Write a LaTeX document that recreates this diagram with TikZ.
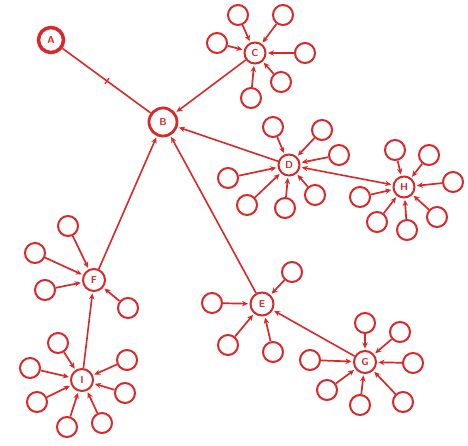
\documentclass[tikz,border=0pt]{standalone}
\usepackage{tikz}
\usetikzlibrary{
  calc
  , arrows.meta
}
\definecolor{NetRed}{RGB}{218,40,42}

\begin{document}
\begin{tikzpicture}[x=1pt,y=-1pt]
      \useasboundingbox (0,0) rectangle (468,445);
      \tikzset{
        hub/.style={draw=NetRed, circle, line width=2pt,
          minimum size=21pt, inner sep=0pt, text=NetRed,
          font=\fontsize{10}{10}\selectfont\sffamily\bfseries},
        sat/.style={draw=NetRed, circle, line width=2pt,
          minimum size=20pt, inner sep=0pt},
        feed/.style={-{Stealth[length=6pt,width=5.5pt]}, draw=NetRed,
          line width=1.7pt, shorten >=1.5pt},
        link/.style={draw=NetRed, line width=1.6pt},
      }

      % main nodes
      \node [hub, line width=3.5pt, minimum size=25pt] (A) at (51,40) {A};
      \node [hub, line width=2.8pt, minimum size=28pt] (B) at (163,122) {B};
      \node [hub] (C) at (255,53) {C};
      \node [hub] (D) at (289,165) {D};
      \node [hub] (H) at (404,187) {H};
      \node [hub, minimum size=22pt] (F) at (94,280) {F};
      \node [hub, minimum size=22pt] (I) at (82,380) {I};
      \node [hub, minimum size=23pt] (E) at (262,304) {E};
      \node [hub, minimum size=22pt] (G) at (365,362) {G};

      % links between the main nodes
      \draw[link] (A) -- (B);
      \draw[link, line width=1.3pt]
      ($ (A)!.5!(B)!3.5pt!90:(B) $) coordinate (TickA)
      -- ($ (A)!.5!(B)!3.5pt!-90:(B) $) coordinate (TickB);
      \draw[feed, link] (C) -- (B);
      \draw[feed, link] (D) -- (B);
      \draw[feed, link, shorten <=1.5pt, {Stealth[length=6pt,width=5.5pt]}-{Stealth[length=6pt,width=5.5pt]}] (H) -- (D);
      \draw[feed, link] (F) -- (B);
      \draw[feed, link] (I) -- (F);
      \draw[feed, link] (E) -- (B);
      \draw[feed, link] (G) -- (E);

      % small circles round each node
      \foreach \x/\y [count=\k] in {238/15, 283/15, 217/43, 305/53, 281/82, 251/98}
      {
        \node [sat] (C\k) at (\x,\y) {};
        \draw[feed] (C\k) -- (C);
      }
      \foreach \x/\y [count=\k] in {273/127, 322/130, 339/155, 228/178, 247/205, 285/208, 315/195}
      {
        \node [sat] (D\k) at (\x,\y) {};
        \draw[feed] (D\k) -- (D);
      }
      \foreach \x/\y [count=\k] in {395/150, 429/155, 453/182, 360/197, 377/222, 407/230, 437/217}
      {
        \node [sat] (H\k) at (\x,\y) {};
        \draw[feed] (H\k) -- (H);
      }
      \foreach \x/\y [count=\k] in {68/226, 35/253, 45/290, 128/308}
      {
        \node [sat] (F\k) at (\x,\y) {};
        \draw[feed] (F\k) -- (F);
      }
      \foreach \x/\y [count=\k] in {58/343, 30/368, 127/360, 37/402, 125/393, 67/427, 102/423}
      {
        \node [sat] (I\k) at (\x,\y) {};
        \draw[feed] (I\k) -- (I);
      }
      \foreach \x/\y [count=\k] in {292/272, 212/303, 228/345, 273/352}
      {
        \node [sat] (E\k) at (\x,\y) {};
        \draw[feed] (E\k) -- (E);
      }
      \foreach \x/\y [count=\k] in {365/323, 400/332, 413/363, 310/360, 327/390, 360/405, 403/402}
      {
        \node [sat] (G\k) at (\x,\y) {};
        \draw[feed] (G\k) -- (G);
      }
    \end{tikzpicture}
\end{document}
